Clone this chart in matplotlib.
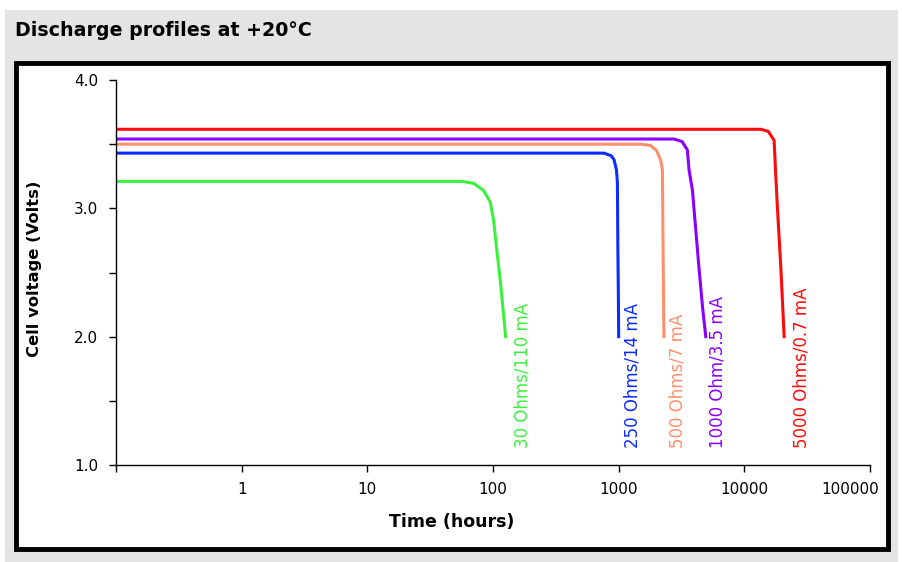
import matplotlib
matplotlib.use("Agg")
import matplotlib.pyplot as plt
from matplotlib.patches import Rectangle
from matplotlib.transforms import ScaledTranslation

# discharge curves (hours, volts)
t_30 = [0.1, 57, 70, 84, 95, 101, 108, 115, 122, 126]
v_30 = [3.21, 3.21, 3.195, 3.14, 3.05, 2.91, 2.65, 2.41, 2.15, 2.0]

t_250 = [0.1, 764, 870, 918, 960, 977, 985, 995, 1000]
v_250 = [3.43, 3.43, 3.41, 3.38, 3.30, 3.20, 2.70, 2.30, 2.0]

t_500 = [0.1, 1500, 1800, 2000, 2150, 2230, 2260, 2290]
v_500 = [3.50, 3.50, 3.49, 3.45, 3.38, 3.30, 2.60, 2.0]

t_1000 = [0.1, 2760, 3200, 3520, 3630, 3865, 4110, 4370, 4650, 4935]
v_1000 = [3.54, 3.54, 3.52, 3.455, 3.30, 3.14, 2.83, 2.52, 2.23, 2.0]

t_5000 = [0.1, 13500, 15500, 17260, 17800, 18370, 19500, 20750]
v_5000 = [3.616, 3.616, 3.60, 3.53, 3.25, 2.99, 2.545, 2.0]

labels = ["30 Ohms/110 mA", "250 Ohms/14 mA", "500 Ohms/7 mA",
          "1000 Ohm/3.5 mA", "5000 Ohms/0.7 mA"]
label_x = [145, 1097, 2500, 5210, 24300]
colors = ["#3cf03c", "#0a2cff", "#ff8f6b", "#8a00ff", "#ff0a0a"]

x_ticks = [0.1, 1, 10, 100, 1000, 10000, 100000]
x_ticklabels = ["", "1", "10", "100", "1000", "10000", "100000"]
y_ticks = [1.0, 1.5, 2.0, 2.5, 3.0, 3.5, 4.0]
y_ticklabels = ["1.0", "", "2.0", "", "3.0", "", "4.0"]

W, H = 903, 562
fig = plt.figure(figsize=(W / 100, H / 100), dpi=100)
fig.patch.set_facecolor("white")

# grey panel and black framed plot box
fig.patches.append(Rectangle((5 / W, 0.0), 893 / W, (H - 10) / H,
                             transform=fig.transFigure, facecolor="#e4e4e4",
                             edgecolor="none", zorder=0))
fig.patches.append(Rectangle((16 / W, (H - 549) / H), 872 / W, 486 / H,
                             transform=fig.transFigure, facecolor="white",
                             edgecolor="black", linewidth=3.5, zorder=1))
fig.text(15 / W, 1 - 31 / H, "Discharge profiles at +20°C", fontsize=13.7,
         fontweight="bold", va="center", ha="left")

ax = fig.add_axes([116 / W, 97 / H, 754 / W, 385 / H])
ax.set_zorder(5)
ax.set_facecolor("none")

series = [(t_30, v_30), (t_250, v_250), (t_500, v_500),
          (t_1000, v_1000), (t_5000, v_5000)]
for (t, v), c, lab, lx in zip(series, colors, labels, label_x):
    ax.plot(t, v, color=c, linewidth=2.2, solid_joinstyle="round")
    ax.text(lx, 1.13, lab, color=c, rotation=90, ha="left", va="bottom",
            fontsize=12)

ax.set_xscale("log")
ax.set_xlim(0.1, 100000)
ax.set_ylim(1.0, 4.0)
ax.set_xticks(x_ticks)
ax.set_xticklabels(x_ticklabels, fontsize=11)
ax.xaxis.set_minor_locator(matplotlib.ticker.NullLocator())
ax.set_yticks(y_ticks)
ax.set_yticklabels(y_ticklabels, fontsize=11)
ax.tick_params(direction="out", length=5, width=1)
ax.tick_params(axis="x", pad=7)
ax.tick_params(axis="y", pad=8)

last = ax.get_xticklabels()[-1]
last.set_ha("right")
last.set_transform(last.get_transform() + ScaledTranslation(9 / 100, 0, fig.dpi_scale_trans))

for s in ["top", "right"]:
    ax.spines[s].set_visible(False)
for s in ["left", "bottom"]:
    ax.spines[s].set_linewidth(1)

ax.set_xlabel("Time (hours)", fontsize=12.5, fontweight="bold")
ax.xaxis.set_label_coords((452 - 116) / 754, -0.125)
ax.set_ylabel("Cell voltage (Volts)", fontsize=11.8, fontweight="bold")
ax.yaxis.set_label_coords((42 - 116) / 754, 0.51)

fig.savefig("out.png", dpi=100)
